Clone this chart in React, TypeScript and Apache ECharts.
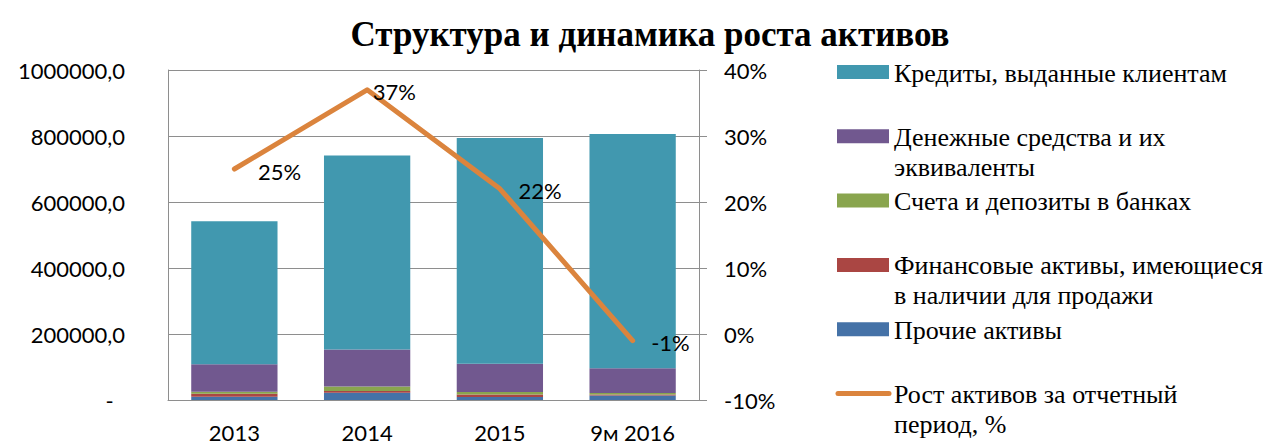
import React, { useEffect, useRef } from "react";
import * as echarts from "echarts";

const titleText = "Структура и динамика роста активов";
const categories = ["2013", "2014", "2015", "9м 2016"];

// stacked bottom → top
const otherAssets = [10000, 22000, 9000, 14000];
const financialAssets = [9000, 5000, 8000, 3000];
const bankDeposits = [6000, 14000, 7000, 4000];
const cashEquivalents = [83000, 112000, 86000, 75000];
const customerLoans = [434000, 588000, 684000, 710000];
const assetGrowth = [25, 37, 22, -1];

const leftTicks = { min: 0, max: 1000000, interval: 200000 };
const rightTicks = { min: -10, max: 40, interval: 10 };

const barNames = [
  "Прочие активы",
  "Финансовые активы, имеющиеся в наличии для продажи",
  "Счета и депозиты в банках",
  "Денежные средства и их эквиваленты",
  "Кредиты, выданные клиентам",
];
const barValues = [otherAssets, financialAssets, bankDeposits, cashEquivalents, customerLoans];
const barColors = ["#4572A7", "#AA4643", "#89A54E", "#71588F", "#4198AF"];
const lineName = "Рост активов за отчетный период, %";
const lineColor = "#DB843D";

// legend (top → bottom), labels with manual wraps
const legendLabels = [
  "Кредиты, выданные клиентам",
  "Денежные средства и их\nэквиваленты",
  "Счета и депозиты в банках",
  "Финансовые активы, имеющиеся\nв наличии для продажи",
  "Прочие активы",
  "Рост активов за отчетный\nпериод, %",
];
const legendColors = [barColors[4], barColors[3], barColors[2], barColors[1], barColors[0], lineColor];

// label styling offsets (dx) for the growth labels
const growthLabelDx = [23, 5, 18, 18];

const gridColor = "#8E8E8E";
const axisFont = "Lato";

function fmtLeft(v: number) {
  if (v === 0) return "-\u00A0\u00A0";
  return v.toFixed(1).replace(".", ",");
}

export default function App() {
  const ref = useRef<HTMLDivElement>(null);
  useEffect(() => {
    if (!ref.current) return;
    const chart = echarts.init(ref.current, undefined, { renderer: "svg" });

    const barSeries = barNames.map((name, i) => ({
      name,
      type: "bar",
      stack: "assets",
      yAxisIndex: 0,
      barWidth: "65%",
      itemStyle: { color: barColors[i] },
      data: barValues[i],
    }));

    const legendGraphics: any[] = [];
    legendLabels.forEach((label, i) => {
      const cy = 72 + i * 64.3;
      if (i === legendLabels.length - 1) {
        legendGraphics.push({
          type: "line",
          shape: { x1: 838, y1: cy, x2: 889, y2: cy },
          style: { stroke: legendColors[i], lineWidth: 5, lineCap: "round" },
        });
      } else {
        legendGraphics.push({
          type: "rect",
          shape: { x: 837, y: cy - 7, width: 52, height: 14 },
          style: { fill: legendColors[i] },
        });
      }
      legendGraphics.push({
        type: "text",
        x: 894,
        y: cy - 14,
        style: {
          text: label,
          fill: "#000",
          font: '26px "Liberation Serif"',
          lineHeight: 30,
          verticalAlign: "top",
          align: "left",
        },
      });
    });

    chart.setOption({
      animation: false,
      title: {
        text: titleText,
        left: 645,
        top: 12,
        textAlign: "center",
        textStyle: {
          fontFamily: '"Liberation Serif"',
          fontSize: 35,
          fontWeight: "bold",
          color: "#000",
        },
      },
      grid: { left: 168, right: 576, top: 70, bottom: 46, outerBoundsMode: "none" },
      xAxis: {
        type: "category",
        data: categories,
        axisLine: { lineStyle: { color: gridColor, width: 1 } },
        axisTick: { show: false },
        axisLabel: { margin: 21, fontFamily: axisFont, fontSize: 22, color: "#000" },
      },
      yAxis: [
        {
          type: "value",
          ...leftTicks,
          axisLine: { show: true, lineStyle: { color: gridColor, width: 1 } },
          axisTick: { show: false },
          splitLine: { show: true, lineStyle: { color: gridColor, width: 1 } },
          axisLabel: { margin: 43, fontFamily: axisFont, fontSize: 22, color: "#000", formatter: fmtLeft },
        },
        {
          type: "value",
          position: "right",
          ...rightTicks,
          axisLine: { show: true, lineStyle: { color: gridColor, width: 1 } },
          axisTick: { show: true, length: 8, lineStyle: { color: gridColor } },
          splitLine: { show: false },
          axisLabel: { margin: 25, fontFamily: axisFont, fontSize: 22, color: "#000", formatter: "{value}%" },
        },
      ],
      series: [
        ...barSeries,
        {
          name: lineName,
          type: "line",
          yAxisIndex: 1,
          symbol: "circle",
          symbolSize: 1,
          showSymbol: true,
          itemStyle: { color: lineColor },
          lineStyle: { color: lineColor, width: 5, cap: "round", join: "round" },
          label: {
            show: true,
            position: "right",
            distance: 0,
            formatter: (p: any) => `${p.value}%`,
            fontFamily: axisFont,
            fontSize: 22,
            color: "#000",
          },
          data: assetGrowth.map((v, i) => ({ value: v, label: { offset: [growthLabelDx[i], 2] } })),
          z: 5,
        },
      ],
      graphic: legendGraphics,
    });
    return () => chart.dispose();
  }, []);
  return (
    <div
      ref={ref}
      style={{ position: "absolute", left: 0, top: 0, width: 1275, height: 446, background: "#fff" }}
    />
  );
}
